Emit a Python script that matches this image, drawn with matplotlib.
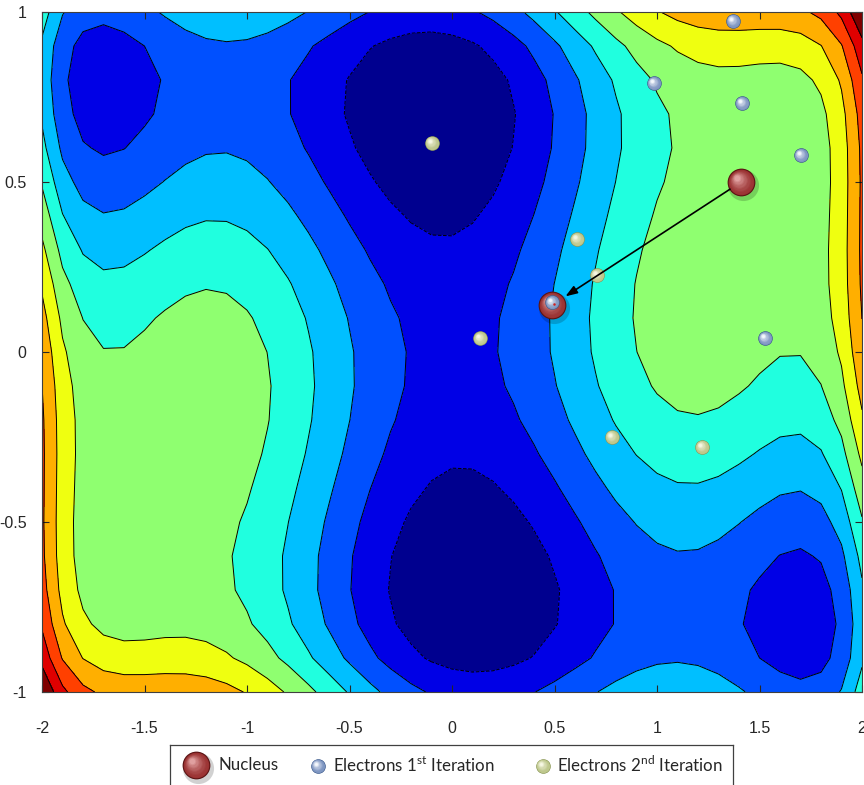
import numpy as np
import matplotlib
matplotlib.use("Agg")
from matplotlib import pyplot as plt
from matplotlib.transforms import offset_copy

plt.rcParams['axes.unicode_minus'] = False
plt.rcParams['mathtext.fontset'] = 'custom'
plt.rcParams['mathtext.rm'] = 'Lato'

# six-hump camel back surface, sampled on a coarse grid
x_grid = np.arange(-2, 2.0001, 0.1)
y_grid = np.arange(-1, 1.0001, 0.1)
n_levels = 10

# particle positions
nucleus_x = [1.41, 0.488]
nucleus_y = [0.50, 0.138]
elec1_x = [1.371, 0.985, 1.415, 1.702, 1.527, 0.488]
elec1_y = [0.974, 0.791, 0.732, 0.579, 0.041, 0.146]
elec2_x = [-0.098, 0.610, 0.707, 0.137, 0.780, 1.220]
elec2_y = [0.615, 0.332, 0.226, 0.040, -0.250, -0.279]

xticks = [-2, -1.5, -1, -0.5, 0, 0.5, 1, 1.5, 2]
xtick_labels = ['-2', '-1.5', '-1', '-0.5', '0', '0.5', '1', '1.5', '2']
yticks = [-1, -0.5, 0, 0.5, 1]
ytick_labels = ['-1', '-0.5', '0', '0.5', '1']

# matlab jet(64) entries used by contourf
band_colors = ['#00008F', '#0000E6', '#0050FF', '#00BFFF', '#20FFDF', '#8FFF70',
               '#EFFF10', '#FFAF00', '#FF4000', '#DF0000', '#800000']


def camel(x, y):
    return (4 - 2.1 * x**2 + x**4 / 3) * x**2 + x * y + (-4 + 4 * y**2) * y**2


X, Y = np.meshgrid(x_grid, y_grid)
Z = camel(X, Y)
zmin, zmax = Z.min(), Z.max()
levels = np.linspace(zmin, zmax, n_levels + 2)

fig = plt.figure(figsize=(8.64, 7.85), dpi=100)
W, H = 864, 785
ax = fig.add_axes([42 / W, 1 - 692 / H, 820 / W, 680 / H])
ax.contourf(X, Y, Z, levels=levels, colors=band_colors)
ax.contour(X, Y, Z, levels=levels[1:-1], colors='k', linewidths=0.7)
ax.set_xlim(-2, 2)
ax.set_ylim(-1, 1)

ax.set_xticks(xticks)
ax.set_xticklabels(xtick_labels)
ax.set_yticks(yticks)
ax.set_yticklabels(ytick_labels)
ax.tick_params(direction='in', top=True, right=True, length=5, width=0.8,
               labelsize=11.5, colors='#262626')
ax.tick_params(axis='x', pad=21)
ax.tick_params(axis='y', pad=11)
for lab in ax.get_xticklabels() + ax.get_yticklabels():
    lab.set_family('Liberation Sans')
for sp in ax.spines.values():
    sp.set_color('#404040')
    sp.set_linewidth(0.8)


def blend(c1, c2, f):
    c1 = np.array(matplotlib.colors.to_rgb(c1))
    c2 = np.array(matplotlib.colors.to_rgb(c2))
    return tuple(c1 * (1 - f) + c2 * f)


def sphere(a, x, y, size, dark, base, light, z=5, shadow=False, n=10):
    '''draws a shaded ball, size is diameter in points'''
    if shadow:
        tr = offset_copy(a.transData, fig=fig, x=size * 0.08, y=-size * 0.1, units='points')
        a.plot(x, y, 'o', ms=size * 1.12, color='k', alpha=0.18, mec='none',
               transform=tr, zorder=z, clip_on=False)
    a.plot(x, y, 'o', ms=size, color=dark, mec='none', zorder=z + 0.01, clip_on=False)
    for k in range(n):
        f = k / (n - 1)
        d = size * (0.92 - 0.72 * f)
        off = size * 0.16 * f
        col = blend(base, light, f ** 1.5)
        tr = offset_copy(a.transData, fig=fig, x=-off, y=off, units='points')
        a.plot(x, y, 'o', ms=d, color=col, mec='none', transform=tr,
               zorder=z + 0.02 + k * 0.001, clip_on=False)


RED = ('#5a1414', '#9a3232', '#e0a0a0')
BLUE = ('#3c5a8c', '#7b93c0', '#f4f7fc')
GREEN = ('#8a9656', '#bcc68a', '#f6f7e4')

for i in range(len(nucleus_x)):
    sphere(ax, nucleus_x[i], nucleus_y[i], 20, *RED, z=6, shadow=True)
for i in range(len(elec1_x)):
    sphere(ax, elec1_x[i], elec1_y[i], 10.5, *BLUE, z=7)
for i in range(len(elec2_x)):
    sphere(ax, elec2_x[i], elec2_y[i], 10.5, *GREEN, z=7)
ax.plot(nucleus_x[1] + 0.008, nucleus_y[1] + 0.004, 'o', ms=1.8, color='#d02020', mec='none', zorder=9)

ax.annotate('', xy=(nucleus_x[1], nucleus_y[1]), xytext=(nucleus_x[0], nucleus_y[0]),
            arrowprops=dict(arrowstyle='-|>,head_length=0.7,head_width=0.25', color='k',
                            lw=1.2, shrinkA=9.5, shrinkB=11.5), zorder=8)

# legend box, bottom edge runs off the figure
lax = fig.add_axes([170 / W, -0.06, 563 / W, 40 / H + 0.06])
lax.set_xlim(170, 733)
lax.set_ylim(785 + 0.06 * H, 745)
lax.set_xticks([])
lax.set_yticks([])
for sp in lax.spines.values():
    sp.set_color('#404040')
    sp.set_linewidth(0.9)

sphere(lax, 196, 765, 20, *RED, z=6, shadow=True)
sphere(lax, 318, 766, 10.5, *BLUE, z=6)
sphere(lax, 543, 766, 10.5, *GREEN, z=6)
txt = dict(fontsize=12.2, family='Lato', color='#262626', va='center', ha='left')
lax.text(219, 765, 'Nucleus', **txt)
lax.text(333, 765, r'Electrons 1$^{\mathrm{st}}$ Iteration', **txt)
lax.text(557, 765, r'Electrons 2$^{\mathrm{nd}}$ Iteration', **txt)

fig.savefig('out.png', dpi=100)
